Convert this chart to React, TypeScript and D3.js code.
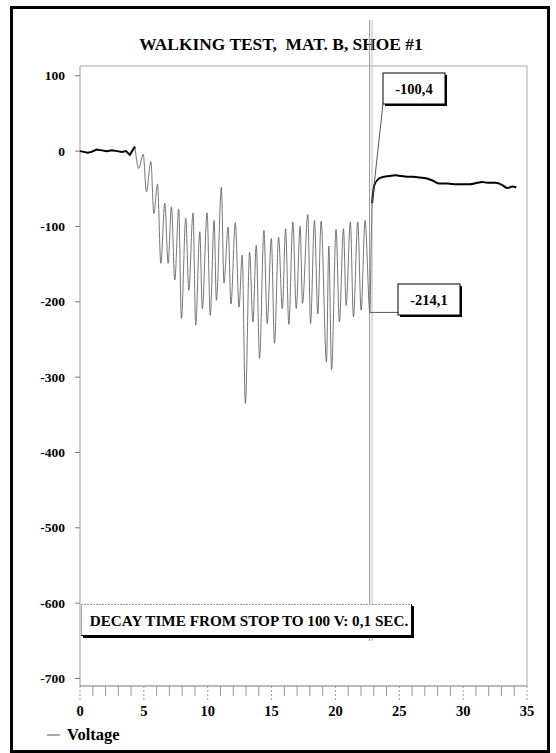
import React from "react";
import * as d3 from "d3";

const timeSec = [
  0, 0.3, 0.6, 0.9, 1.3, 1.7, 2.1, 2.5, 2.9, 3.3, 3.6, 3.9,
  4.3, 4.6, 4.95, 5.2, 5.55, 5.78, 6.07, 6.33, 6.64, 6.9, 7.16, 7.42, 7.73, 7.94,
  8.28, 8.52, 8.85, 9.06, 9.38, 9.58, 9.95, 10.2, 10.5, 10.68, 11.07, 11.27, 11.6,
  11.82, 12.16, 12.45, 12.7, 12.95, 13.28, 13.54, 13.8, 14.06, 14.4, 14.66, 14.98,
  15.23, 15.55, 15.84, 16.1, 16.35, 16.67, 16.93, 17.24, 17.42, 17.84, 18.05, 18.36,
  18.62, 18.88, 19.3, 19.48, 19.7, 20.05, 20.31, 20.63, 20.84, 21.17, 21.41, 21.75,
  22.01, 22.32, 22.7,
  22.8, 22.87, 23.05, 23.44, 23.8, 24.22, 24.7, 25.13, 25.6, 26.1, 26.6, 27.09, 27.6,
  28.13, 28.8, 29.43, 30.0, 30.47, 31.12, 31.5, 31.9, 32.55, 33.07, 33.46, 33.85, 34.16,
];
const voltage = [
  0, -1, -2, -1, 2, 1, 0, 1, 0, -1, 0, -5,
  6, -23, -4, -54, -14, -83, -44, -149, -69, -149, -74, -171, -77, -222,
  -89, -185, -82, -231, -107, -209, -82, -218, -92, -198, -48, -175, -101,
  -203, -95, -207, -138, -335, -134, -227, -125, -275, -105, -229, -116,
  -255, -114, -209, -103, -230, -94, -209, -100, -202, -84, -229, -92,
  -216, -93, -280, -126, -290, -104, -227, -103, -205, -94, -220, -94,
  -211, -92, -214.1,
  -120, -69, -45, -36, -34, -33, -32, -33, -34, -34, -35, -36, -39,
  -43, -43, -44, -44, -44, -42, -41, -42, -42, -45, -49, -47, -48,
];
const walkStart = 12; // index of first oscillation point
const stopIndex = 79; // index of -69 after stop

const yTicks = [100, 0, -100, -200, -300, -400, -500, -600, -700];
const xTicks = [0, 5, 10, 15, 20, 25, 30, 35];
const xMinor = d3.range(0, 36, 1);

const title = "WALKING TEST,\u00a0 MAT. B, SHOE #1";
const noteTop = "-100,4";
const noteStop = "-214,1";
const noteDecay = "DECAY TIME FROM STOP TO 100 V: 0,1 SEC.";
const stopTime = 22.75;
const legendLabel = "Voltage";

const FONT = '"Liberation Serif", "Times New Roman", "DejaVu Serif", serif';
const T: React.CSSProperties = { fontFamily: FONT, fontWeight: 700 };

export default function App() {
  const left = 80, right = 527, top = 66, bottom = 686;
  const x = d3.scaleLinear().domain([0, 35]).range([left, right]);
  const y = d3.scaleLinear().domain([-710, 113]).range([bottom, top]);
  const pts = timeSec.map((t, i) => [t, voltage[i]] as [number, number]);
  const line = d3.line<[number, number]>().x((d) => x(d[0])).y((d) => y(d[1]));
  const smooth = d3
    .line<[number, number]>()
    .x((d) => x(d[0]))
    .y((d) => y(d[1]))
    .curve(d3.curveMonotoneX);
  const pre = pts.slice(0, walkStart + 1);
  const walk = pts.slice(walkStart, stopIndex + 1);
  const post = pts.slice(stopIndex);
  const sx = x(stopTime);

  const box = (bx: number, by: number, w: number, h: number) => (
    <g>
      <rect x={bx + 2} y={by + 2} width={w} height={h} fill="#000" />
      <rect x={bx} y={by} width={w} height={h} fill="#fff" stroke="#000" strokeWidth={1} />
    </g>
  );

  return (
    <svg
      width={556}
      height={753}
      style={{ position: "absolute", left: 0, top: 0, background: "#fff", fontFamily: FONT }}
    >
      <rect x={11.5} y={7.5} width={537} height={744} fill="#fff" stroke="#000" strokeWidth={3} />
      <text x={281} y={50} textAnchor="middle" fontSize={17.4} style={T}>
        {title}
      </text>
      {/* plot frame */}
      <line x1={left} x2={right} y1={top} y2={top} stroke="#aaa" strokeWidth={1} />
      <line x1={right} x2={right} y1={top} y2={bottom} stroke="#aaa" strokeWidth={1} />
      <line x1={left} x2={left} y1={top} y2={bottom} stroke="#999" strokeWidth={1} />
      <line x1={left} x2={right} y1={bottom} y2={bottom} stroke="#777" strokeWidth={1} />
      {/* y ticks */}
      {yTicks.map((v) => (
        <g key={v}>
          <line x1={left - 5} x2={left} y1={y(v)} y2={y(v)} stroke="#777" />
          <text x={65} y={y(v) + 4.5} textAnchor="end" fontSize={13.5} style={T}>
            {v}
          </text>
        </g>
      ))}
      {/* x ticks */}
      {xMinor.map((v) => (
        <line
          key={v}
          x1={x(v)}
          x2={x(v)}
          y1={bottom}
          y2={bottom + (v % 5 === 0 ? 14 : 10)}
          stroke="#999"
          strokeDasharray={v % 5 === 0 ? "2,2" : undefined}
        />
      ))}
      {xTicks.map((v) => (
        <text key={v} x={x(v)} y={716} textAnchor="middle" fontSize={14.5} style={T}>
          {v}
        </text>
      ))}
      {/* stop marker */}
      <line x1={sx - 1} x2={sx - 1} y1={20} y2={641} stroke="#999" strokeWidth={1} />
      <line x1={sx + 1.5} x2={sx + 1.5} y1={20} y2={641} stroke="#bbb" strokeWidth={1} />
      {/* data */}
      <path d={smooth(walk) || ""} fill="none" stroke="#666" strokeWidth={0.9} />
      <path d={line(pre) || ""} fill="none" stroke="#000" strokeWidth={2} />
      <path d={smooth(post) || ""} fill="none" stroke="#000" strokeWidth={2} />
      {/* annotations */}
      <line x1={383} y1={104} x2={x(22.87)} y2={y(-69)} stroke="#555" />
      {box(383, 73, 62, 31)}
      <text x={414} y={94} textAnchor="middle" fontSize={14.5} style={T}>
        {noteTop}
      </text>
      <line x1={x(22.7)} y1={y(-214.1)} x2={398} y2={y(-214.1)} stroke="#555" />
      {box(398, 284, 62, 31)}
      <text x={429} y={305} textAnchor="middle" fontSize={14.5} style={T}>
        {noteStop}
      </text>
      {/* decay note box: light top/left, dark bottom/right with shadow */}
      <rect x={83} y={606} width={331} height={32} fill="#000" />
      <rect x={81} y={604} width={331} height={32} fill="#fff" />
      <line x1={81} x2={412} y1={604.5} y2={604.5} stroke="#999" strokeDasharray="2,1" />
      <line x1={81.5} x2={81.5} y1={604} y2={636} stroke="#aaa" />
      <line x1={81} x2={412} y1={635.5} y2={635.5} stroke="#000" />
      <line x1={411.5} x2={411.5} y1={604} y2={636} stroke="#000" />
      <text x={249} y={625.5} textAnchor="middle" fontSize={15.2} style={T}>
        {noteDecay}
      </text>
      {/* legend */}
      <line x1={47} x2={60} y1={735} y2={735} stroke="#555" strokeWidth={1} />
      <text x={67} y={740} fontSize={16.5} style={T}>
        {legendLabel}
      </text>
    </svg>
  );
}
